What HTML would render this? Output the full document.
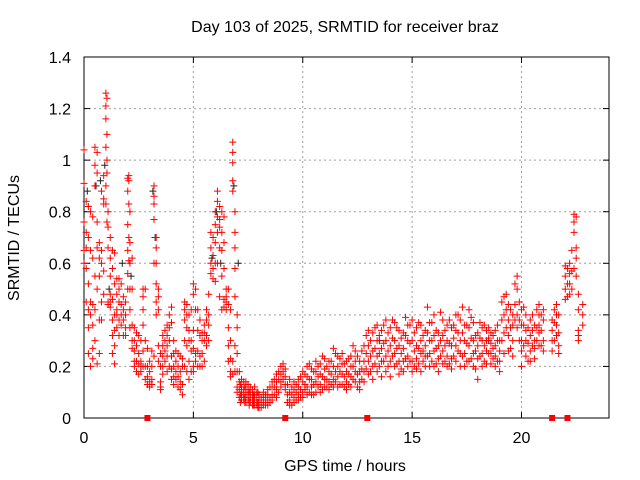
<!DOCTYPE html>
<html><head><meta charset="utf-8"><style>
body{margin:0;background:#fff;}
svg{display:block;font-family:"Liberation Sans",sans-serif;}
</style></head><body>
<svg id="chart" width="640" height="480" viewBox="0 0 640 480">
<text x="345" y="32" font-size="16" text-anchor="middle" fill="#000">Day 103 of 2025, SRMTID for receiver braz</text>
<g id="grid"></g>
<g id="axes"></g>
<g id="black"></g>
<g id="red"></g>
<text x="345" y="471" font-size="16" text-anchor="middle">GPS time / hours</text>
<text transform="translate(19,238) rotate(-90)" font-size="16" text-anchor="middle">SRMTID / TECUs</text>
</svg>
<script>
const xTicks=[0,5,10,15,20];
const yTicks=[0,0.2,0.4,0.6,0.8,1,1.2,1.4];
const yTickLabels=["0","0.2","0.4","0.6","0.8","1","1.2","1.4"];
const redTimes=[0,0.1,0.2,0.3,0.4,0.5,0.6,0.7,0.8,0.9,1.0,1.05,1.1,1.2,1.3,1.4,1.5,1.6,1.7,1.8,1.9,2.0,2.05,2.1,2.2,2.3,2.4,2.5,2.6,2.7,2.8,2.9,3.0,3.1,3.2,3.3,3.4,3.5,3.6,3.7,3.8,3.9,4.0,4.1,4.2,4.3,4.4,4.5,4.6,4.7,4.8,4.9,5.0,5.1,5.2,5.3,5.4,5.5,5.6,5.7,5.8,5.9,6.0,6.1,6.2,6.3,6.4,6.5,6.6,6.7,6.8,6.9,7.0,7.1,7.2,7.3,7.4,7.5,7.6,7.7,7.8,7.9,8.0,8.2,8.4,8.6,8.8,9.0,9.2,9.4,9.6,9.8,10.0,10.2,10.4,10.6,10.8,11.0,11.2,11.4,11.6,11.8,12.0,12.2,12.4,12.6,12.8,13.0,13.2,13.4,13.6,13.8,14.0,14.2,14.4,14.6,14.8,15.0,15.2,15.4,15.6,15.8,16.0,16.2,16.4,16.6,16.8,17.0,17.2,17.4,17.6,17.8,18.0,18.2,18.4,18.6,18.8,19.0,19.2,19.4,19.6,19.8,20.0,20.2,20.4,20.6,20.8,21.0,21.4,21.6,21.7,22.0,22.2,22.4,22.5,22.6,22.8];
const redValues=[
[0.91,0.76,0.65,1.04,0.6],[0.84,0.72,0.66,0.58,0.45],[0.82,0.7,0.52,0.42,0.35,0.25],[0.8,0.65,0.45,0.4,0.2],[0.78,0.62,0.44,0.36,0.27,0.23],
[1.05,0.98,0.9,0.55,0.42,0.3],[1.03,0.95,0.76,0.66,0.5,0.21],[0.68,0.62,0.55,0.38,0.25],[0.88,0.65,0.6,0.45,0.38],[0.94,0.85,0.83,0.57,0.48],
[1.26,1.21,1.16,1.05,0.9,0.83],[1.24,1.1,1.0,0.95,0.76],[0.8,0.74,0.66,0.45,0.44],[0.7,0.62,0.55,0.48,0.45,0.43],[0.65,0.58,0.46,0.38,0.32,0.25],
[0.64,0.52,0.4,0.34,0.28,0.21],[0.54,0.48,0.42,0.4,0.35],[0.54,0.5,0.45,0.38,0.32],[0.52,0.44,0.4,0.36],[0.47,0.42,0.38,0.32],[0.45,0.4,0.35,0.32],
[0.93,0.88,0.75,0.65,0.56,0.5],[0.94,0.92,0.83,0.7,0.61],[0.8,0.68,0.6,0.5,0.42,0.35],[0.62,0.5,0.36,0.3,0.27],[0.35,0.3,0.26,0.22,0.2],
[0.33,0.28,0.22,0.18],[0.32,0.25,0.21,0.17],[0.3,0.22,0.2,0.18],[0.5,0.47,0.42,0.36,0.26,0.2],[0.5,0.3,0.2,0.15],[0.27,0.2,0.16,0.13],
[0.22,0.18,0.14,0.12],[0.26,0.2,0.15,0.13],[0.9,0.86,0.83,0.77,0.6,0.24],[0.7,0.66,0.6,0.52,0.45,0.4],[0.5,0.47,0.42,0.28,0.22],
[0.25,0.2,0.14,0.12,0.11],[0.32,0.28,0.24,0.2,0.17],[0.34,0.3,0.26,0.22],[0.36,0.32,0.28,0.24,0.18],[0.4,0.35,0.3,0.2],
[0.43,0.37,0.24,0.19,0.15],[0.3,0.25,0.2,0.16,0.13],[0.26,0.22,0.18,0.15],[0.25,0.2,0.16,0.12],[0.24,0.18,0.14,0.11],[0.23,0.2,0.13,0.09],
[0.45,0.42,0.38,0.3,0.2],[0.44,0.4,0.35,0.28,0.18],[0.4,0.34,0.3,0.22,0.15],[0.42,0.3,0.26,0.18],
[0.52,0.48,0.34,0.27,0.2,0.18],[0.5,0.42,0.25,0.22],[0.42,0.34,0.26,0.2],[0.38,0.32,0.24,0.2],[0.33,0.3,0.25,0.2],[0.36,0.33,0.3,0.22],
[0.42,0.38,0.32,0.28],[0.48,0.4,0.36,0.3],[0.72,0.66,0.6,0.56],[0.7,0.63,0.58,0.54],[0.8,0.75,0.68,0.6,0.53],[0.88,0.84,0.78,0.72,0.6],
[0.82,0.77,0.74,0.66,0.47],[0.8,0.72,0.65,0.55,0.42],[0.78,0.68,0.58,0.46,0.43],[0.5,0.47,0.45,0.42],[0.5,0.44,0.35,0.28,0.22],
[0.42,0.3,0.23,0.18,0.16],[1.07,1.03,0.99,0.92,0.88,0.22,0.17],[0.8,0.72,0.66,0.58,0.47,0.28,0.18],[0.4,0.35,0.25,0.18,0.12,0.1],
[0.18,0.14,0.11,0.08],[0.15,0.12,0.1,0.08,0.07],[0.14,0.11,0.09,0.07],[0.14,0.12,0.1,0.08,0.06],[0.13,0.11,0.09,0.07],[0.12,0.1,0.08,0.06],
[0.11,0.09,0.07,0.05],[0.12,0.09,0.07,0.05],[0.1,0.08,0.06,0.05],[0.09,0.07,0.05,0.04],[0.1,0.08,0.06,0.05],[0.11,0.09,0.07,0.05],
[0.14,0.12,0.09,0.07],[0.17,0.14,0.11,0.08],[0.2,0.17,0.14,0.12],[0.19,0.16,0.13,0.11],[0.15,0.1,0.07,0.05],[0.14,0.11,0.08,0.06],
[0.15,0.12,0.09,0.07],[0.18,0.14,0.1,0.08],[0.2,0.16,0.12,0.09],[0.19,0.15,0.12,0.09],[0.22,0.18,0.14,0.1],[0.21,0.17,0.13,0.1],
[0.23,0.19,0.15,0.12],[0.22,0.18,0.14,0.11],[0.27,0.2,0.15,0.12],[0.24,0.2,0.16,0.12],[0.25,0.21,0.17,0.13],[0.22,0.18,0.14,0.11],
[0.24,0.2,0.16,0.12],[0.26,0.22,0.18,0.14],[0.22,0.18,0.14,0.11],[0.28,0.22,0.18,0.14],[0.34,0.28,0.22,0.17],[0.33,0.26,0.2,0.15],
[0.36,0.3,0.24,0.18],[0.34,0.27,0.22,0.16],[0.38,0.3,0.24,0.18],[0.35,0.28,0.22,0.16],[0.37,0.3,0.25,0.2],[0.34,0.28,0.22,0.17],
[0.33,0.27,0.22,0.18],[0.36,0.3,0.24,0.2],[0.38,0.3,0.22,0.18],[0.35,0.28,0.23,0.19],[0.36,0.3,0.25,0.18],[0.34,0.28,0.24,0.2],
[0.37,0.3,0.25,0.2],[0.4,0.32,0.26,0.2],[0.33,0.28,0.23,0.18],[0.38,0.32,0.26,0.21],[0.36,0.3,0.24,0.2],[0.35,0.28,0.23,0.19],
[0.4,0.34,0.28,0.22],[0.38,0.3,0.25,0.2],[0.36,0.3,0.25,0.2],[0.42,0.35,0.28,0.22],[0.37,0.3,0.25,0.2],[0.33,0.28,0.23,0.15],
[0.35,0.3,0.25,0.2],[0.34,0.3,0.26,0.21],[0.33,0.29,0.25,0.21],[0.34,0.28,0.24,0.2],[0.3,0.26,0.22,0.18],[0.47,0.4,0.33,0.25],
[0.44,0.38,0.32,0.26],[0.4,0.36,0.3,0.24],[0.55,0.5,0.4,0.35],[0.42,0.36,0.3,0.26,0.2],[0.4,0.34,0.3,0.24],[0.38,0.32,0.26,0.22],
[0.36,0.3,0.27,0.23],[0.44,0.4,0.36,0.33,0.28],[0.42,0.38,0.3,0.26],[0.38,0.34,0.3,0.26],[0.44,0.4,0.36,0.32],[0.4,0.33,0.28,0.25],
[0.59,0.55,0.5,0.46],[0.6,0.56,0.52,0.48],[0.79,0.76,0.72,0.58],[0.78,0.66,0.62,0.55],[0.48,0.42,0.34,0.32,0.3],[0.44,0.4,0.36]];
const redTimes2=[7.15,7.35,7.55,7.75,7.95,8.1,8.3,8.5,8.7,8.9,9.1,9.3,9.5,9.7,9.9,10.1,10.3,10.5,10.7,10.9,11.1,11.3,11.5,11.7,11.9,12.1,12.3,12.5,12.7,12.9,13.1,13.3,13.5,13.7,13.9,14.1,14.3,14.5,14.7,14.9,15.1,15.3,15.5,15.7,15.9,16.1,16.3,16.5,16.7,16.9,17.1,17.3,17.5,17.7,17.9,18.1,18.3,18.5,18.7,18.9,19.1,19.3,19.5,19.7,19.9,20.1,20.3,20.5,20.7,20.9,21.5,22.1,22.3];
const redValues2=[
[0.13,0.09,0.06],[0.12,0.08,0.06],[0.1,0.07,0.05],[0.09,0.07,0.05],[0.1,0.06,0.04],[0.08,0.06,0.04],[0.09,0.07,0.05],[0.12,0.08,0.06],
[0.15,0.12,0.09],[0.18,0.15,0.1],[0.21,0.18,0.15],[0.13,0.09,0.06],[0.12,0.09,0.05],[0.13,0.1,0.07],[0.16,0.11,0.08],
[0.17,0.13,0.11],[0.21,0.15,0.1],[0.18,0.13,0.09],[0.2,0.16,0.12],[0.24,0.16,0.11],[0.2,0.15,0.12],[0.22,0.17,0.13],
[0.25,0.18,0.14],[0.23,0.18,0.13],[0.21,0.16,0.12],[0.23,0.17,0.13],[0.28,0.2,0.15],[0.24,0.17,0.12],[0.26,0.19,0.15],
[0.32,0.25,0.19],[0.3,0.24,0.18],[0.35,0.27,0.21],[0.32,0.25,0.2],[0.36,0.29,0.22],[0.33,0.26,0.2],[0.38,0.31,0.24],
[0.35,0.27,0.21],[0.31,0.25,0.19],[0.39,0.32,0.23],[0.36,0.29,0.22],[0.33,0.26,0.2],[0.37,0.27,0.21],[0.32,0.26,0.22],
[0.43,0.33,0.24],[0.37,0.3,0.22],[0.34,0.27,0.21],[0.41,0.3,0.24],[0.34,0.28,0.22],[0.38,0.29,0.21],[0.36,0.31,0.24],
[0.4,0.33,0.26],[0.43,0.33,0.24],[0.36,0.29,0.22],[0.39,0.31,0.23],[0.32,0.26,0.19],[0.37,0.31,0.24],[0.36,0.28,0.22],
[0.35,0.31,0.25],[0.32,0.27,0.23],[0.36,0.3,0.22],[0.45,0.38,0.3],[0.48,0.42,0.35],[0.42,0.35,0.27],[0.52,0.44,0.38],
[0.45,0.38,0.3],[0.43,0.36,0.28],[0.35,0.29,0.22],[0.4,0.34,0.28],[0.42,0.35,0.3],[0.4,0.34,0.28],[0.42,0.37,0.3],
[0.58,0.52,0.47],[0.65,0.57,0.5]];
const blackTimes=[0.15,0.55,0.75,0.95,1.15,1.75,2.15,3.15,3.25,5.85,6.05,6.25,6.85,7.05,13.5,18.5];
const blackValues=[0.88,0.9,0.92,0.98,0.5,0.6,0.55,0.88,0.7,0.62,0.8,0.6,0.9,0.6,0.3,0.3];
const gapTimes=[2.9,9.2,12.95,21.4,22.1];

const X0=84,X1=609,Y0=418,Y1=57,XMAX=24,YMAX=1.4;
const xs=h=>X0+(X1-X0)*h/XMAX;
const ys=v=>Y0-(Y0-Y1)*v/YMAX;
const NS="http://www.w3.org/2000/svg";
function mk(tag,attrs,parent){const e=document.createElementNS(NS,tag);for(const k in attrs)e.setAttribute(k,attrs[k]);parent.appendChild(e);return e;}
const grid=document.getElementById('grid'),axes=document.getElementById('axes');
xTicks.forEach(t=>{
  const x=xs(t);
  if(t>0){const l=mk('line',{x1:x,y1:Y0,x2:x,y2:Y1,stroke:'#a0a0a0','stroke-dasharray':'2,3','stroke-width':1},grid);
  
  }
  mk('line',{x1:x,y1:Y0,x2:x,y2:Y0-6,stroke:'#000'},axes);
  mk('line',{x1:x,y1:Y1,x2:x,y2:Y1+6,stroke:'#000'},axes);
  const tx=mk('text',{x:x,y:Y0+25,'font-size':16,'text-anchor':'middle'},axes);tx.textContent=t;
  
  
});
yTicks.forEach((t,i)=>{
  const y=ys(t);
  if(t>0&&t<YMAX){const l=mk('line',{x1:X0,y1:y,x2:X1,y2:y,stroke:'#a0a0a0','stroke-dasharray':'2,3','stroke-width':1},grid);
  
  }
  mk('line',{x1:X0,y1:y,x2:X0+6,y2:y,stroke:'#000'},axes);
  mk('line',{x1:X1,y1:y,x2:X1-6,y2:y,stroke:'#000'},axes);
  const tx=mk('text',{x:X0-13,y:y+6,'font-size':16,'text-anchor':'end'},axes);tx.textContent=yTickLabels[i];
  
  
});
const fr=mk('rect',{x:X0,y:Y1,width:X1-X0,height:Y0-Y1,fill:'none',stroke:'#000','stroke-width':1},axes);


function cross(g,h,v,col){
  const x=xs(h),y=ys(v);
  const p=mk('path',{d:`M${x-3.5},${y}h7M${x},${y-3.5}v7`,stroke:col,'stroke-width':1,fill:'none'},g);
  
  
}
const bg=document.getElementById('black'),rg=document.getElementById('red');
blackTimes.forEach((h,i)=>cross(bg,h,blackValues[i],'#202020'));
redTimes.forEach((h,i)=>redValues[i].forEach(v=>cross(rg,h,v,'#ff0000')));
redTimes2.forEach((h,i)=>redValues2[i].forEach(v=>cross(rg,h,v,'#ff0000')));
gapTimes.forEach(h=>{
  const r=mk('rect',{x:xs(h)-3,y:ys(0)-3,width:6,height:6,fill:'#ff0000'},rg);
  
  
});
</script>
</body></html>
